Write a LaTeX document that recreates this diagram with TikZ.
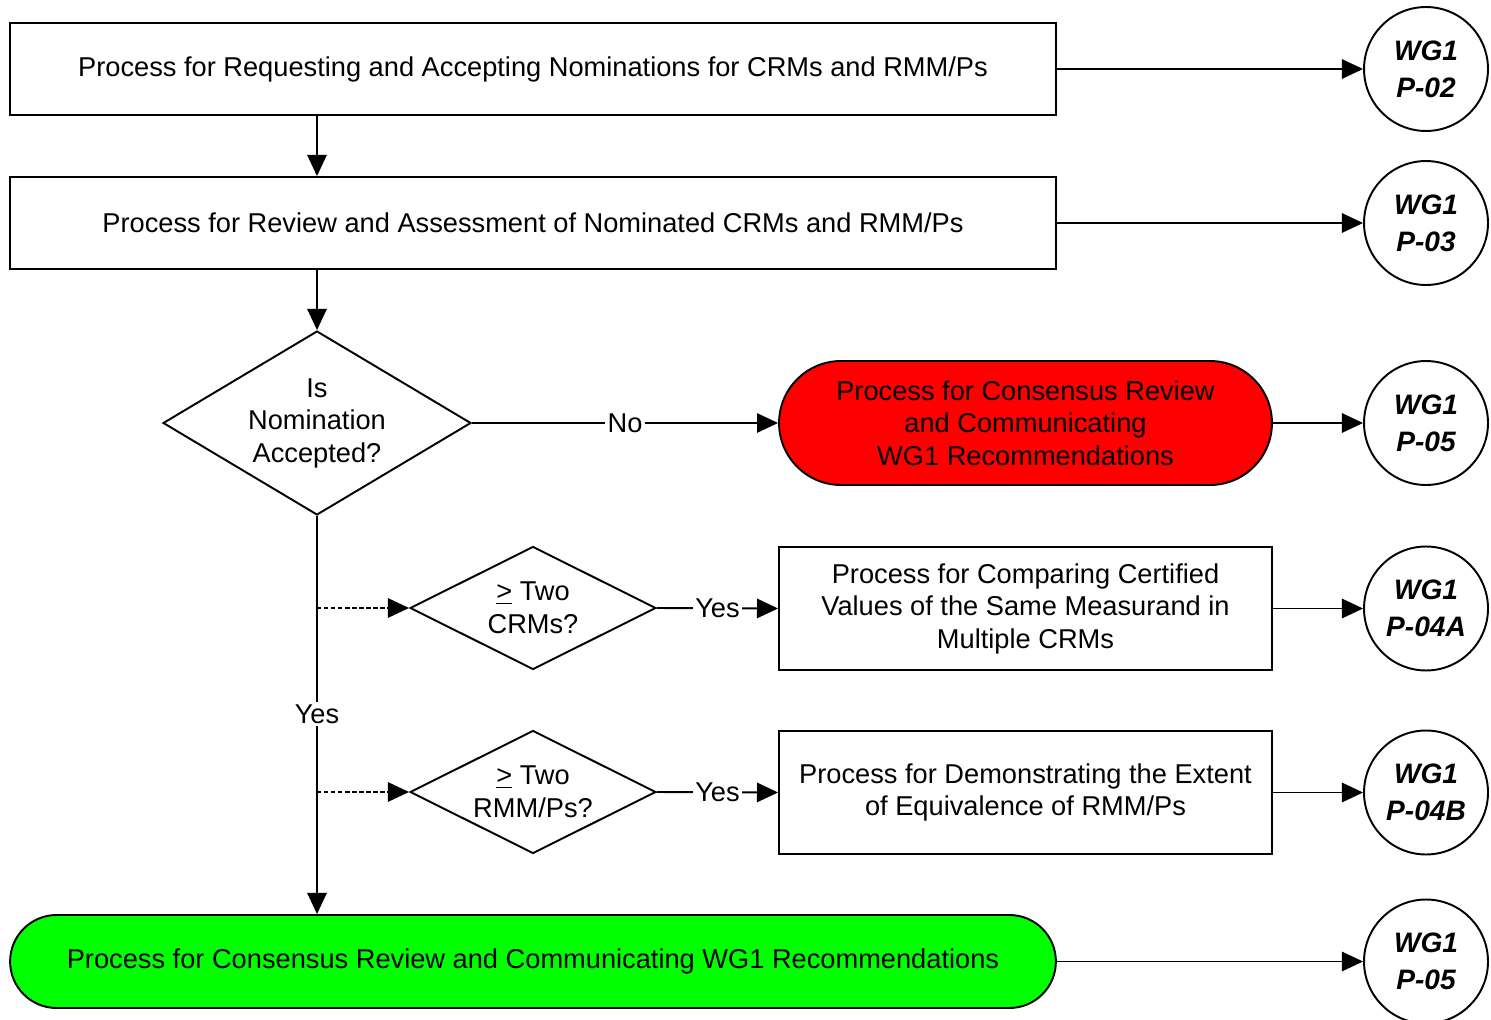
\documentclass[tikz,border=0pt]{standalone}
\usepackage{fontspec}
\setmainfont{Liberation Sans}
\usetikzlibrary{shapes.geometric,shapes.misc,arrows.meta}
\begin{document}
\begin{tikzpicture}[x=0.02cm,y=-0.02cm,
 every node/.style={font=\fontsize{15.5}{18.5}\selectfont, align=center, inner sep=0pt},
 proc/.style={draw, line width=1.1pt, rectangle},
 dec/.style={draw, line width=1.1pt, diamond},
 term/.style={draw, line width=1.1pt, rounded rectangle},
 refc/.style={draw, line width=1.1pt, circle, minimum size=2.48cm, font=\fontsize{16}{21}\selectfont\bfseries\itshape},
 arr/.style={line width=1.1pt, -{Triangle[length=12pt,width=11pt]}},
 dotarr/.style={arr, dash pattern=on 2.5pt off 1.5pt},
 lbl/.style={fill=white, inner sep=1.5pt}]
\useasboundingbox (0,0) rectangle (1491,1020);
% process boxes
\node[proc, minimum width=20.92cm, minimum height=1.84cm] (b1) at (533,69) {Process for Requesting and Accepting Nominations for CRMs and RMM/Ps};
\node[proc, minimum width=20.92cm, minimum height=1.84cm] (b2) at (533,223) {Process for Review and Assessment of Nominated CRMs and RMM/Ps};
\node[dec, shape aspect=1.67, minimum width=6.16cm, minimum height=3.68cm] (d1) at (317,423) {Is\\Nomination\\Accepted?};
\node[term, fill=red, minimum width=9.86cm, minimum height=2.48cm] (r) at (1025.5,423) {Process for Consensus Review\\and Communicating\\WG1 Recommendations};
\node[dec, shape aspect=2, minimum width=4.92cm, minimum height=2.46cm] (d2) at (533,608) {\underline{>} Two\\CRMs?};
\node[proc, minimum width=9.86cm, minimum height=2.46cm] (b3) at (1025.5,608.5) {Process for Comparing Certified\\Values of the Same Measurand in\\Multiple CRMs};
\node[dec, shape aspect=2, minimum width=4.92cm, minimum height=2.46cm] (d3) at (533,792) {\underline{>} Two\\RMM/Ps?};
\node[proc, minimum width=9.86cm, minimum height=2.46cm] (b4) at (1025.5,792.5) {Process for Demonstrating the Extent\\of Equivalence of RMM/Ps};
\node[term, fill=green, minimum width=20.92cm, minimum height=1.86cm] (g) at (533,961.5) {Process for Consensus Review and Communicating WG1 Recommendations};
% reference circles
\node[refc] (c1) at (1426,69) {WG1\\P-02};
\node[refc] (c2) at (1426,223) {WG1\\P-03};
\node[refc] (c3) at (1426,423) {WG1\\P-05};
\node[refc] (c4) at (1426,608.5) {WG1\\P-04A};
\node[refc] (c5) at (1426,792.5) {WG1\\P-04B};
\node[refc] (c6) at (1426,961.5) {WG1\\P-05};
% junctions on the main vertical line
\coordinate (j1) at (317,608);
\coordinate (j2) at (317,792);
% connectors
\draw[arr] (b1.east) -- (c1.west);
\draw[arr] (b2.east) -- (c2.west);
\draw[arr] (r.east) -- (c3.west);
\draw[arr] (b3.east) -- (c4.west);
\draw[arr] (b4.east) -- (c5.west);
\draw[arr] (g.east) -- (c6.west);
\draw[arr] (b1.south -| d1.north) -- (b2.north -| d1.north);
\draw[arr] (b2.south -| d1.north) -- (d1.north);
\draw[arr] (d1.east) -- node[lbl]{No} (r.west);
\draw[arr] (d1.south) -- node[lbl, pos=0.4975]{Yes} (g.north -| d1.south);
\draw[dotarr] (j1) -- (d2.west);
\draw[dotarr] (j2) -- (d3.west);
\draw[arr] (d2.east) -- node[lbl]{Yes} (b3.west);
\draw[arr] (d3.east) -- node[lbl]{Yes} (b4.west);
\end{tikzpicture}
\end{document}
